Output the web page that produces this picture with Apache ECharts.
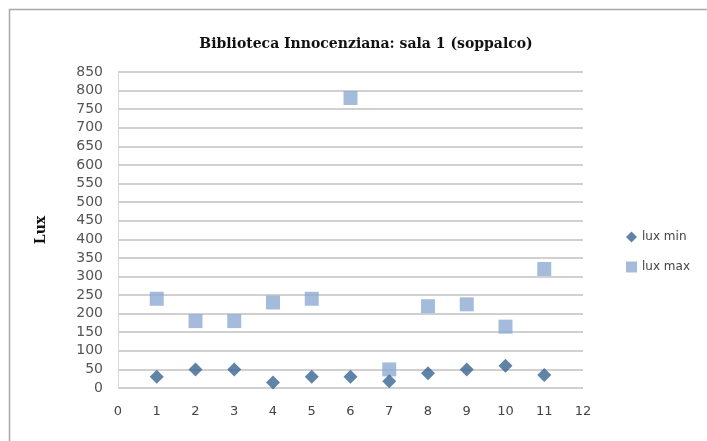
<!DOCTYPE html>
<html>
<head>
<meta charset="utf-8">
<script src="https://cdn.jsdelivr.net/npm/echarts@6/dist/echarts.min.js"></script>
<style>
  html, body { margin: 0; padding: 0; background: #fff; }
  #chart { width: 707px; height: 441px; }
</style>
</head>
<body>
<div id="chart"></div>
<script>
  // punti di misura (sala)
  var punti = [1, 2, 3, 4, 5, 6, 7, 8, 9, 10, 11];
  var luxMin = [30, 50, 50, 15, 30, 30, 18, 40, 50, 60, 35];
  var luxMax = [240, 180, 180, 230, 240, 780, 50, 220, 225, 165, 320];

  function coppie(xs, ys) {
    return xs.map(function (x, i) { return [x, ys[i]]; });
  }

  var myChart = echarts.init(document.getElementById('chart'));
  var option = {
    animation: false,
    title: {
      text: 'Biblioteca Innocenziana: sala 1 (soppalco)',
      left: 361, top: 32, textAlign: 'center',
      textStyle: { fontFamily: 'DejaVu Serif', fontWeight: 'bold', fontSize: 14, color: '#111' }
    },
    legend: {
      orient: 'vertical', left: 621, top: 226, itemGap: 18,
      itemWidth: 11, itemHeight: 11,
      textStyle: { fontFamily: 'DejaVu Sans', fontSize: 12, color: '#444' },
      data: [
        { name: 'lux min', icon: 'diamond' },
        { name: 'lux max', icon: 'rect' }
      ]
    },
    graphic: [{
      type: 'rect', silent: true,
      shape: { x: 9.5, y: 9.5, width: 720, height: 460 },
      style: { fill: 'none', stroke: '#a8a8a8', lineWidth: 1.5 }
    }],
    grid: { left: 118, right: 124, top: 72, bottom: 53 },
    xAxis: {
      type: 'value', min: 0, max: 12, interval: 1,
      axisLine: { show: false },
      axisTick: { show: false },
      splitLine: { show: false },
      axisLabel: { margin: 17, fontFamily: 'DejaVu Sans', fontSize: 13, color: '#444' }
    },
    yAxis: {
      type: 'value', min: 0, max: 850, interval: 50,
      name: 'Lux', nameLocation: 'middle', nameGap: 70, nameRotate: 90,
      nameTextStyle: { fontFamily: 'DejaVu Serif', fontWeight: 'bold', fontSize: 14, color: '#111' },
      axisLine: { show: true, lineStyle: { color: '#d8d8d8', width: 1 } },
      axisTick: { show: false },
      splitLine: { lineStyle: { color: '#c0c0c0', width: 1.5 } },
      axisLabel: { margin: 15, fontFamily: 'DejaVu Sans', fontSize: 14, color: '#555' }
    },
    series: [
      {
        name: 'lux min', type: 'scatter', symbol: 'diamond', symbolSize: 14,
        itemStyle: { color: '#386592' },
        data: coppie(punti, luxMin), z: 3
      },
      {
        name: 'lux max', type: 'scatter', symbol: 'rect', symbolSize: 14,
        itemStyle: { color: '#8eaad3' },
        data: coppie(punti, luxMax), z: 2
      }
    ]
  };
  myChart.setOption(option);
</script>
</body>
</html>
